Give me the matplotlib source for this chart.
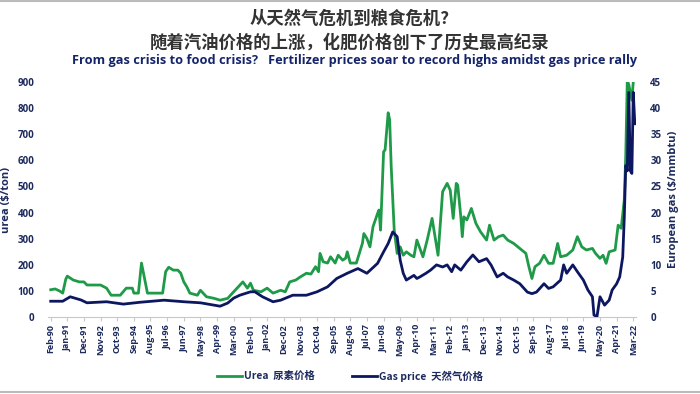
import matplotlib
matplotlib.use('Agg')
import matplotlib.pyplot as plt
import pandas as pd
from matplotlib.lines import Line2D

# urea price, $/ton
urea_dates = ['1990-02', '1990-05', '1990-08', '1990-10', '1990-12', '1991-01', '1991-05', '1991-09',
              '1991-12', '1992-02', '1992-11', '1993-03', '1993-06', '1993-12', '1994-04', '1994-08',
              '1994-09', '1994-12', '1995-02', '1995-03', '1995-06', '1996-04', '1996-06', '1996-08',
              '1996-11', '1997-02', '1997-04', '1997-06', '1997-08', '1997-10', '1998-03', '1998-05',
              '1998-09', '1999-02', '1999-06', '1999-11', '2000-01', '2000-03', '2000-06', '2000-09',
              '2000-12', '2001-02', '2001-04', '2001-09', '2002-01', '2002-05', '2002-10', '2003-01',
              '2003-04', '2003-08', '2003-11', '2004-03', '2004-06', '2004-09', '2004-11', '2004-12',
              '2005-02', '2005-05', '2005-07', '2005-10', '2005-12', '2006-03', '2006-05', '2006-06',
              '2006-08', '2006-12', '2007-04', '2007-05', '2007-07', '2007-09', '2007-11', '2008-02',
              '2008-03', '2008-04', '2008-06', '2008-07', '2008-09', '2008-10', '2008-11', '2009-01',
              '2009-03', '2009-05', '2009-07', '2009-09', '2009-12', '2010-02', '2010-04', '2010-06',
              '2010-08', '2010-11', '2011-02', '2011-04', '2011-06', '2011-09', '2011-12', '2012-02',
              '2012-04', '2012-06', '2012-07', '2012-09', '2012-10', '2012-11', '2013-01', '2013-04',
              '2013-07', '2013-10', '2014-02', '2014-04', '2014-07', '2014-10', '2015-01', '2015-04',
              '2015-08', '2015-12', '2016-04', '2016-06', '2016-08', '2016-10', '2017-01', '2017-04',
              '2017-07', '2017-10', '2018-01', '2018-03', '2018-07', '2018-11', '2019-02', '2019-05',
              '2019-08', '2019-12', '2020-02', '2020-05', '2020-07', '2020-09', '2020-11', '2021-03',
              '2021-05', '2021-07', '2021-09', '2021-10', '2021-11', '2021-12', '2022-01', '2022-02',
              '2022-03', '2022-04']
urea_vals = [105, 108, 100, 92, 145, 157, 142, 135,
             135, 123, 123, 111, 84, 84, 111, 111,
             92, 92, 207, 180, 92, 92, 174, 191,
             180, 180, 168, 135, 116, 92, 84, 103,
             78, 72, 65, 72, 85, 97, 116, 135,
             111, 130, 103, 97, 111, 92, 103, 97,
             135, 142, 154, 168, 165, 193, 174, 244,
             212, 207, 231, 207, 237, 218, 226, 250,
             207, 207, 282, 320, 301, 269, 346, 397,
             410, 333, 633, 640, 782, 755, 576, 333,
             244, 269, 237, 250, 237, 231, 295, 263,
             231, 300, 378, 308, 237, 480, 512, 486,
             378, 512, 505, 384, 308, 384, 372, 416,
             359, 327, 295, 352, 295, 308, 314, 295,
             282, 263, 244, 193, 148, 193, 206, 237,
             206, 206, 282, 231, 237, 257, 308, 269,
             257, 263, 244, 225, 237, 206, 250, 257,
             352, 340, 448, 620, 905, 890, 860, 830,
             900, 910]

# European gas price, $/mmbtu
gas_dates = ['1990-02', '1990-10', '1991-03', '1991-10', '1992-02', '1993-03', '1994-02', '1995-01',
             '1996-05', '1997-06', '1998-05', '1999-06', '1999-11', '2000-03', '2000-07', '2001-02',
             '2001-05', '2001-10', '2002-05', '2002-10', '2003-06', '2004-03', '2004-10', '2005-05',
             '2005-11', '2006-06', '2007-01', '2007-07', '2008-02', '2008-06', '2008-09', '2008-12',
             '2009-03', '2009-05', '2009-07', '2009-09', '2010-02', '2010-04', '2010-06', '2010-10',
             '2011-01', '2011-05', '2011-09', '2011-12', '2012-03', '2012-05', '2012-09', '2013-01',
             '2013-05', '2013-09', '2014-02', '2014-05', '2014-09', '2015-01', '2015-04', '2015-08',
             '2015-12', '2016-05', '2016-08', '2016-11', '2017-04', '2017-07', '2017-10', '2018-03',
             '2018-05', '2018-07', '2018-11', '2019-02', '2019-06', '2019-09', '2019-12', '2020-01',
             '2020-03', '2020-05', '2020-08', '2020-11', '2021-01', '2021-04', '2021-06', '2021-08',
             '2021-09', '2021-10', '2021-11', '2021-12', '2022-01', '2022-02', '2022-03', '2022-04']
gas_vals = [3.05, 3.05, 3.9, 3.3, 2.75, 2.95, 2.5, 2.85,
            3.25, 2.95, 2.75, 2.1, 2.7, 3.65, 4.2, 4.85,
            4.85, 3.9, 2.95, 3.25, 4.2, 4.2, 4.85, 5.8,
            7.4, 8.4, 9.3, 8.4, 10.3, 12.5, 14.1, 16.3,
            15.4, 10.9, 8.4, 7.1, 8.0, 7.4, 7.7, 8.4,
            9.0, 10.0, 9.6, 10.0, 8.7, 10.0, 9.0, 10.6,
            11.9, 10.6, 11.2, 10.0, 7.7, 8.4, 7.7, 7.1,
            6.4, 4.8, 4.5, 4.8, 6.4, 5.5, 5.8, 7.1,
            10.0, 8.4, 10.0, 8.7, 7.1, 5.2, 3.9, 0.4,
            0.1, 3.9, 2.3, 3.25, 5.2, 6.4, 7.7, 11.5,
            19, 29, 28, 43, 28, 27.5, 43, 37]

tick_dates = pd.date_range('1990-02-01', periods=36, freq='11MS')

green = '#1f9a48'
navy = '#0c1760'
label_col = '#1c2a5e'
cjk = ['Noto Sans CJK SC', 'DejaVu Sans']

fig = plt.figure(figsize=(7, 3.94), dpi=100)
ax = fig.add_axes([0.069, 0.195, 0.84, 0.597])
ax2 = ax.twinx()

ax.plot(pd.to_datetime(urea_dates), urea_vals, color=green, lw=2.0, zorder=2)
ax2.plot(pd.to_datetime(gas_dates), gas_vals, color=navy, lw=2.0, zorder=3)

ax.set_ylim(0, 900)
ax2.set_ylim(0, 45)
ax.set_xlim(pd.Timestamp('1989-12-15'), pd.Timestamp('2022-05-01'))
ax.set_yticks(range(0, 901, 100))
ax2.set_yticks(range(0, 46, 5))
ax.set_xticks(tick_dates)
ax.set_xticklabels([d.strftime('%b-%y') for d in tick_dates], rotation=90)

for a in (ax, ax2):
    for s in a.spines.values():
        s.set_visible(False)
ax.spines['bottom'].set_visible(True)
ax.spines['bottom'].set_color('#c8c8c8')
ax.tick_params(axis='x', length=3, color='#c8c8c8', labelsize=6.5, labelcolor=label_col, pad=2)
ax.tick_params(axis='y', length=0, labelsize=7, labelcolor=label_col, pad=10)
ax2.tick_params(axis='y', length=0, labelsize=7, labelcolor=label_col, pad=10)
for lab in ax.get_xticklabels() + ax.get_yticklabels() + ax2.get_yticklabels():
    lab.set_fontweight('bold')
    lab.set_family('Open Sans')

ax.set_ylabel('urea ($/ton)', color=label_col, fontsize=8, fontweight='bold', family='Open Sans', labelpad=4)
ax2.set_ylabel('European gas ($/mmbtu)', color=label_col, fontsize=8, fontweight='bold',
               family='Open Sans', labelpad=5)

fig.text(0.5, 0.952, '从天然气危机到粮食危机?', ha='center', va='center', fontsize=12.5,
         fontweight='bold', family=cjk, color='#333333')
fig.text(0.5, 0.893, '随着汽油价格的上涨，化肥价格创下了历史最高纪录', ha='center', va='center',
         fontsize=12.5, fontweight='bold', family=cjk, color='#333333')
fig.text(0.507, 0.847, 'From gas crisis to food crisis?   Fertilizer prices soar to record highs amidst gas price rally',
         ha='center', va='center', fontsize=9.2, fontweight='bold', family='Open Sans', color='#14246b')

# legend drawn by hand so the two entries sit where they do in the original
leg_y = 0.045
fig.add_artist(Line2D([0.310, 0.346], [leg_y, leg_y], color=green, lw=2.0))
fig.text(0.349, leg_y, 'Urea  尿素价格', ha='left', va='center', fontsize=7.5,
         fontweight='bold', family=cjk, color=label_col)
fig.add_artist(Line2D([0.503, 0.539], [leg_y, leg_y], color=navy, lw=2.0))
fig.text(0.542, leg_y, 'Gas price  天然气价格', ha='left', va='center', fontsize=7.5,
         fontweight='bold', family=cjk, color=label_col)

fig.add_artist(Line2D([0, 1], [0.997, 0.997], color='#bbbbbb', lw=1.5))
fig.add_artist(Line2D([0, 1], [0.006, 0.006], color='#bbbbbb', lw=1.5))

fig.savefig('out.png', dpi=100)
